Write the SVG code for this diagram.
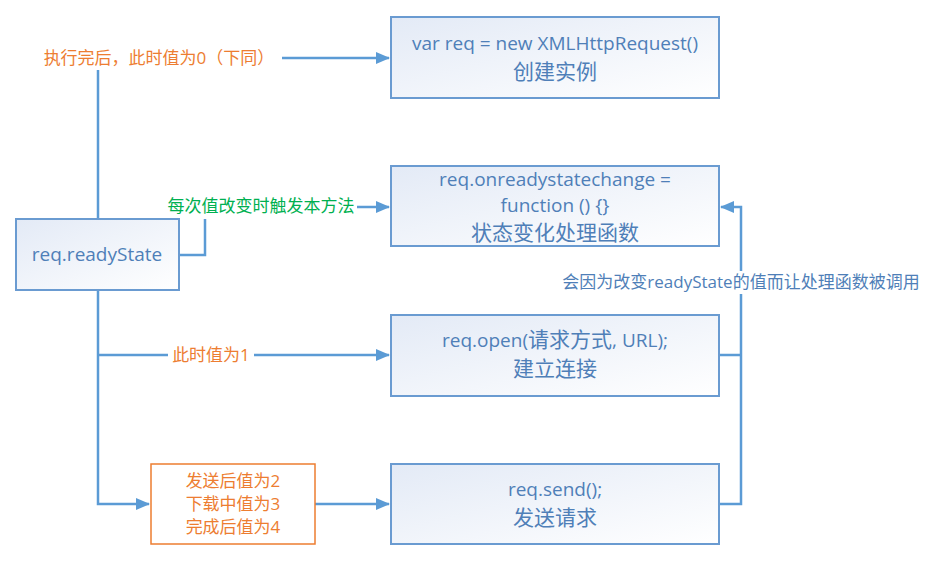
<svg xmlns="http://www.w3.org/2000/svg" width="930" height="574" viewBox="0 0 930 574">
<defs>
<linearGradient id="g" x1="0" y1="0" x2="1" y2="1">
<stop offset="0" stop-color="#E3EAF6"/>
<stop offset="1" stop-color="#FFFFFF"/>
</linearGradient>
<marker id="a" markerWidth="14" markerHeight="12" refX="13" refY="6" orient="auto" markerUnits="userSpaceOnUse">
<path d="M0,0 L14,6 L0,12 Z" fill="#5B9BD5"/>
</marker>
<style>
.box{fill:url(#g);stroke:#6A9BD1;stroke-width:2}
.ob{fill:#fff;stroke:#ED7D31;stroke-width:1.5}
.t{font-family:"Open Sans","Noto Sans CJK SC",sans-serif;font-size:19px;fill:#4F7FB8;text-anchor:middle}
.c{font-family:"Noto Sans CJK SC",sans-serif;font-size:21px}
.ln{fill:none;stroke:#5B9BD5;stroke-width:2.5}
.lb{font-family:"Open Sans","Noto Sans CJK SC",sans-serif;font-size:17px;text-anchor:middle}
.or{fill:#ED7D31}
.gr{fill:#00B050}
.bl{fill:#4F7FB8}
</style>
</defs>
<rect width="930" height="574" fill="#fff"/>
<g id="connectors">
<path class="ln" d="M98,219 V58 H389" marker-end="url(#a)"/>
<path class="ln" d="M179,255 H205 V207 H389" marker-end="url(#a)"/>
<path class="ln" d="M98,290 V504 H149" marker-end="url(#a)"/>
<path class="ln" d="M98,355 H389" marker-end="url(#a)"/>
<path class="ln" d="M315,504 H389" marker-end="url(#a)"/>
<path class="ln" d="M719,504 H741 V207 H721" marker-end="url(#a)"/>
<path class="ln" d="M719,355 H741"/>
<rect x="40" y="45" width="242" height="25" fill="#fff"/>
<text class="lb or" x="159" y="64">执行完后，此时值为0（下同）</text>
<rect x="162" y="194" width="195" height="25" fill="#fff"/>
<text class="lb gr" x="261" y="212">每次值改变时触发本方法</text>
<rect x="168" y="343" width="86" height="24" fill="#fff"/>
<text class="lb or" x="211" y="361">此时值为1</text>
<rect x="556" y="271" width="370" height="23" fill="#fff"/>
<text class="lb bl" x="741" y="288">会因为改变readyState的值而让处理函数被调用</text>
</g>
<g id="n1">
<rect class="box" x="391" y="17" width="328" height="81"/>
<text class="t" x="555" y="50">var req = new XMLHttpRequest()</text>
<text class="t c" x="555" y="79">创建实例</text>
</g>
<g id="n2">
<rect class="box" x="391" y="166" width="328" height="80"/>
<text class="t" x="555" y="186">req.onreadystatechange =</text>
<text class="t" x="555" y="212">function () {}</text>
<text class="t c" x="555" y="240">状态变化处理函数</text>
</g>
<g id="n3">
<rect class="box" x="16" y="219" width="163" height="71"/>
<text class="t" x="97" y="261">req.readyState</text>
</g>
<g id="n4">
<rect class="box" x="391" y="315" width="328" height="81"/>
<text class="t" x="555" y="347">req.open(<tspan class="c">请求方式</tspan>, URL);</text>
<text class="t c" x="555" y="376">建立连接</text>
</g>
<g id="n5">
<rect class="ob" x="151" y="464" width="164" height="80"/>
<text class="lb or" x="233" y="487">发送后值为2</text>
<text class="lb or" x="233" y="510">下载中值为3</text>
<text class="lb or" x="233" y="533">完成后值为4</text>
</g>
<g id="n6">
<rect class="box" x="391" y="464" width="328" height="80"/>
<text class="t" x="555" y="496">req.send();</text>
<text class="t c" x="555" y="525">发送请求</text>
</g>
</svg>
